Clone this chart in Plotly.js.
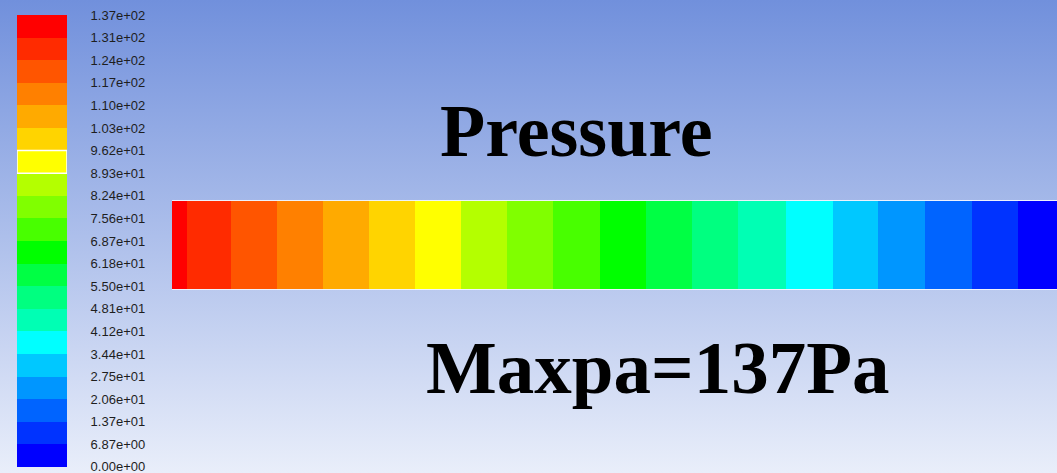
<!DOCTYPE html>
<html>
<head>
<meta charset="utf-8">
<script src="https://cdn.plot.ly/plotly-3.0.1.min.js"></script>
<style>
  html, body { margin: 0; padding: 0; }
  body { width: 1057px; height: 473px; overflow: hidden;
         background: linear-gradient(to bottom, #7190dc 0%, #e9eefa 100%); }
  #chart { width: 1057px; height: 473px; }
</style>
</head>
<body>
<div id="chart"></div>
<script>
// Contour levels (Pa) and their legend labels
const levels = [0, 6.87, 13.74, 20.61, 27.48, 34.35, 41.22, 48.09, 54.96, 61.83, 68.7,
                75.57, 82.44, 89.31, 96.18, 103.05, 109.92, 116.79, 123.66, 130.53, 137.4];
const levelLabels = ["0.00e+00", "6.87e+00", "1.37e+01", "2.06e+01", "2.75e+01", "3.44e+01",
                     "4.12e+01", "4.81e+01", "5.50e+01", "6.18e+01", "6.87e+01", "7.56e+01",
                     "8.24e+01", "8.93e+01", "9.62e+01", "1.03e+02", "1.10e+02", "1.17e+02",
                     "1.24e+02", "1.31e+02", "1.37e+02"];
// Band colours, lowest band first
const bandColors = ["#0000ff", "#0033ff", "#0064ff", "#0096ff", "#00c8ff", "#00ffff",
                    "#00ffb4", "#00ff80", "#00ff44", "#00ff00", "#48ff00", "#80ff00",
                    "#b4ff00", "#ffff00", "#ffd400", "#ffaa00", "#ff8000", "#ff5500",
                    "#ff2b00", "#ff0000"];
// Pressure along the channel: column edges (mm) and the pressure in each column (Pa)
const columnEdges = [0, 15, 59, 105, 151, 197, 243, 289, 335, 381, 428, 474, 520, 566,
                     614, 661, 706, 753, 800, 846, 892];
const columnPressure = [134, 128, 121, 114, 107, 100, 93, 86, 79, 72, 65, 58, 52, 45,
                        38, 31, 24, 17, 10, 3];
const highlightBand = 13; // yellow band outlined in the legend

const W = 1057, H = 473;
const zmax = levels[levels.length - 1];
const colorscale = [];
bandColors.forEach((c, k) => {
  colorscale.push([k / bandColors.length, c]);
  colorscale.push([(k + 1) / bandColors.length, c]);
});

const bandTrace = {
  type: 'heatmap', x: columnEdges, y: [0, 1], z: [columnPressure],
  zmin: 0, zmax: zmax, colorscale: colorscale, showscale: false,
  xaxis: 'x', yaxis: 'y', hoverinfo: 'skip'
};
const legendTrace = {
  type: 'heatmap', x: [0, 1], y: levels,
  z: levels.slice(0, -1).map((v, k) => [(v + levels[k + 1]) / 2]),
  zmin: 0, zmax: zmax, colorscale: colorscale, showscale: false,
  xaxis: 'x2', yaxis: 'y2', hoverinfo: 'skip'
};

const fx = px => px / W;
const fy = py => 1 - py / H;

const layout = {
  width: W, height: H,
  margin: {l: 0, r: 0, t: 0, b: 0},
  paper_bgcolor: 'rgba(0,0,0,0)', plot_bgcolor: 'rgba(0,0,0,0)',
  showlegend: false,
  xaxis: {domain: [fx(172), 1], range: [0, 885], visible: true, showticklabels: false,
          ticks: '', showgrid: false, zeroline: false, showline: true, mirror: true,
          linecolor: 'rgba(245,248,255,0.9)', linewidth: 1, fixedrange: true},
  yaxis: {domain: [fy(289), fy(201)], range: [0, 1], visible: false, fixedrange: true},
  xaxis2: {domain: [fx(17), fx(67)], range: [0, 1], visible: false, anchor: 'y2', fixedrange: true},
  yaxis2: {domain: [fy(467), fy(15)], range: [-0.02, zmax], anchor: 'x2', side: 'right',
           tickmode: 'array', tickvals: levels, ticktext: levelLabels,
           ticks: 'outside', ticklen: 20, tickcolor: 'rgba(0,0,0,0)',
           ticklabeloverflow: 'allow',
           showgrid: false, zeroline: false, showline: false, fixedrange: true,
           tickfont: {family: 'Liberation Sans, Arial, sans-serif', size: 13, color: '#1e1e1e'}},
  shapes: [{type: 'rect', xref: 'x2', yref: 'y2', x0: 0, x1: 1,
            y0: levels[highlightBand], y1: levels[highlightBand + 1],
            line: {color: '#ffffff', width: 1.5}, fillcolor: 'rgba(0,0,0,0)', layer: 'above'}],
  annotations: [
    {text: '<b>Pressure</b>', xref: 'paper', yref: 'paper', x: fx(576), y: fy(131),
     xanchor: 'center', yanchor: 'middle', showarrow: false,
     font: {family: 'Liberation Serif, Times New Roman, serif', size: 74, color: '#000'}},
    {text: '<b>Maxpa=137Pa</b>', xref: 'paper', yref: 'paper', x: fx(658), y: fy(367),
     xanchor: 'center', yanchor: 'middle', showarrow: false,
     font: {family: 'Liberation Serif, Times New Roman, serif', size: 75, color: '#000'}}
  ]
};

Plotly.newPlot('chart', [bandTrace, legendTrace], layout, {displayModeBar: false, staticPlot: true});
</script>
</body>
</html>
